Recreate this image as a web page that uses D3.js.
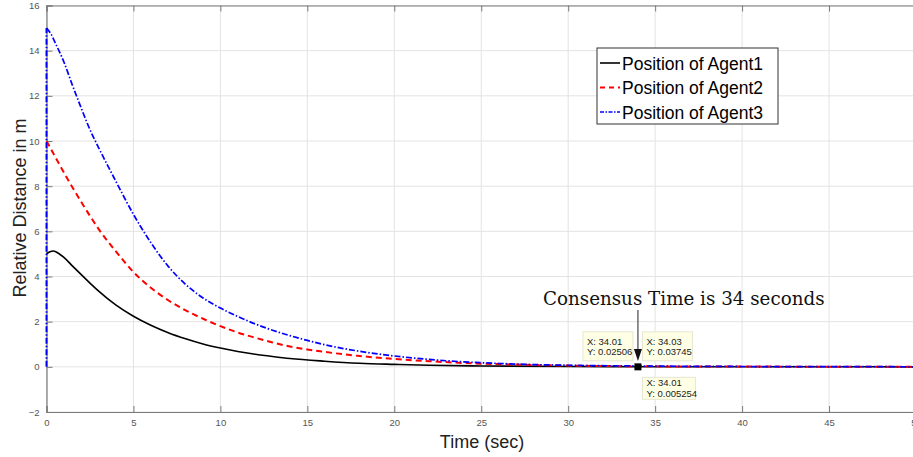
<!DOCTYPE html>
<html><head><meta charset="utf-8">
<script src="https://cdn.jsdelivr.net/npm/d3@7"></script>
<style>
html,body{margin:0;padding:0;background:#fff;}
svg{display:block;font-family:"Liberation Sans",Arial,sans-serif;}
</style></head>
<body><svg id="c" width="913" height="457"></svg>
<script>
const xTicks = [0,5,10,15,20,25,30,35,40,45,50];
const yTicks = [-2,0,2,4,6,8,10,12,14,16];
const seriesNames = ["Position of Agent1","Position of Agent2","Position of Agent3"];

const agent1T = [0,0.2,0.4,0.7,1,1.5,2,2.5,3,4,5,6,7,8,9,10,11,12,13,14,16,18,20,22,25,30,34,40,45,50];
const agent1Y = [5.0,5.1,5.13,5.02,4.85,4.46,4.08,3.71,3.35,2.73,2.24,1.84,1.51,1.24,1.01,0.83,0.68,0.56,0.46,0.37,0.25,0.16,0.11,0.07,0.04,0.015,0.005,0.002,0.001,0.0];

const agent2T = [0,0.5,1,2,3,4,5,6,7,8,9,10,11,12,13,14,15,16,18,20,22,24,26,28,30,34,40,45,50];
const agent2Y = [10,9.3,8.6,7.3,6.1,5.1,4.2,3.5,2.95,2.5,2.13,1.8,1.52,1.29,1.08,0.9,0.77,0.66,0.48,0.35,0.25,0.17,0.12,0.08,0.055,0.025,0.012,0.006,0.003];

const agent3T = [0,0,0.25,0.5,1,1.5,2,2.5,3,4,5,6,7,8,9,10,11,12,13,14,15,16,17,18,20,22,24,26,28,30,34,40,45,50];
const agent3Y = [0,15,14.75,14.35,13.5,12.45,11.45,10.5,9.7,8.2,6.75,5.5,4.45,3.65,3.05,2.6,2.23,1.9,1.62,1.38,1.17,0.98,0.82,0.69,0.48,0.33,0.22,0.15,0.1,0.07,0.037,0.015,0.008,0.004];

const tipX = [34.01, 34.03, 34.01];
const tipY = [0.02506, 0.03745, 0.005254];
const markerPoint = [34.01, 0];
const annotationText = "Consensus Time is 34 seconds";

const svg = d3.select("#c");
const x = d3.scaleLinear().domain([0,50]).range([46.5,916]);
const y = d3.scaleLinear().domain([-2,16]).range([412,5.5]);

// grid
const g = svg.append("g");
g.selectAll(".gx").data(xTicks).join("line")
  .attr("x1",d=>x(d)).attr("x2",d=>x(d)).attr("y1",y(-2)).attr("y2",y(16))
  .attr("stroke","#e3e3e3").attr("stroke-width",1);
g.selectAll(".gy").data(yTicks).join("line")
  .attr("x1",x(0)).attr("x2",x(50)).attr("y1",d=>y(d)).attr("y2",d=>y(d))
  .attr("stroke","#e3e3e3").attr("stroke-width",1);

// axes
const axCol = "#7a7a7a";
const xAxis = svg.append("g").attr("transform",`translate(0,${y(-2)})`)
  .call(d3.axisBottom(x).tickValues(xTicks).tickSize(-6).tickPadding(7).tickFormat(d3.format("d")));
const xTop = svg.append("g").attr("transform",`translate(0,${y(16)})`)
  .call(d3.axisTop(x).tickValues(xTicks).tickSize(-6).tickFormat(""));
const yAxis = svg.append("g").attr("transform",`translate(${x(0)},0)`)
  .call(d3.axisLeft(y).tickValues(yTicks).tickSize(-6).tickPadding(7).tickFormat(d3.format("d")));
[xAxis,xTop,yAxis].forEach(a=>{
  a.selectAll("path").attr("stroke",axCol).attr("stroke-width",1.2);
  a.selectAll("line").attr("stroke",axCol).attr("stroke-width",1);
  a.selectAll("text").attr("fill","#555").style("font-size","9.5px").style("font-family","Liberation Sans, Arial, sans-serif");
});

// lines
const mk = (T,Y)=>T.map((t,i)=>[t,Y[i]]);
const line = d3.line().x(d=>x(d[0])).y(d=>y(d[1])).curve(d3.curveMonotoneX);
const lineL = d3.line().x(d=>x(d[0])).y(d=>y(d[1]));
svg.append("path").datum(mk(agent1T,agent1Y)).attr("d",line)
  .attr("fill","none").attr("stroke","#000").attr("stroke-width",1.6);
svg.append("path").datum(mk(agent2T,agent2Y)).attr("d",line)
  .attr("fill","none").attr("stroke","#ff0000").attr("stroke-width",2).attr("stroke-dasharray","6,4");
const a3 = mk(agent3T,agent3Y);
svg.append("path").datum(a3.slice(0,2)).attr("d",lineL)
  .attr("fill","none").attr("stroke","#0000ff").attr("stroke-width",2).attr("stroke-dasharray","6,2,1.5,2");
svg.append("path").datum(a3.slice(1)).attr("d",line)
  .attr("fill","none").attr("stroke","#0000ff").attr("stroke-width",1.7).attr("stroke-dasharray","6,2,1.5,2");

// marker
svg.append("rect").attr("x",x(markerPoint[0])-3.5).attr("y",y(markerPoint[1])-3.5)
  .attr("width",7).attr("height",7).attr("fill","#000");

// datatips
const tipBoxes = [
  {dx:-55, dy:-35, w:50, h:29},
  {dx:4.5, dy:-35, w:50, h:29},
  {dx:4.5, dy:10.5, w:53, h:22}
];
tipBoxes.forEach((b,i)=>{
  const px = x(markerPoint[0]) + b.dx, py = y(markerPoint[1]) + b.dy;
  const tg = svg.append("g");
  tg.append("rect").attr("x",px).attr("y",py).attr("width",b.w).attr("height",b.h)
    .attr("fill","#ffffe5").attr("stroke","#e6e6cf").attr("stroke-width",1);
  const top = i===2 ? py+9 : py+13;
  tg.append("text").attr("x",px+4).attr("y",top).text("X: "+tipX[i])
    .style("font-size","9.5px").attr("fill","#222");
  tg.append("text").attr("x",px+4).attr("y",top+10.5).text("Y: "+tipY[i])
    .style("font-size","9.5px").attr("fill","#222");
});

// annotation arrow
const ax0 = x(markerPoint[0]);
svg.append("line").attr("x1",ax0).attr("x2",ax0).attr("y1",310).attr("y2",352)
  .attr("stroke","#555").attr("stroke-width",1.3);
svg.append("path").attr("d",`M${ax0-4},349 L${ax0+4},349 L${ax0},361 Z`).attr("fill","#111");
svg.append("text").attr("x",543).attr("y",305).text(annotationText)
  .style("font-family","DejaVu Serif, serif").style("font-size","18.3px").attr("fill","#111");

// legend
const lg = svg.append("g");
lg.append("rect").attr("x",597).attr("y",48).attr("width",181).attr("height",76)
  .attr("fill","#fff").attr("stroke","#333").attr("stroke-width",1);
const lStyles = [
  {c:"#000",w:1.6,d:null},
  {c:"#ff0000",w:2,d:"5,4"},
  {c:"#0000ff",w:1.7,d:"4,1.5,1.5,1.5"}
];
seriesNames.forEach((n,i)=>{
  const ly = 63 + i*24.5;
  lg.append("line").attr("x1",600).attr("x2",620).attr("y1",ly).attr("y2",ly)
    .attr("stroke",lStyles[i].c).attr("stroke-width",lStyles[i].w)
    .attr("stroke-dasharray",lStyles[i].d);
  lg.append("text").attr("x",622).attr("y",ly+6.5).text(n)
    .style("font-size","17.5px").attr("fill","#000");
});

// axis titles
svg.append("text").attr("x",482).attr("y",448).attr("text-anchor","middle")
  .text("Time (sec)").style("font-size","18px").attr("fill","#222");
svg.append("text").attr("transform","translate(26,208) rotate(-90)").attr("text-anchor","middle")
  .text("Relative Distance in m").style("font-size","18px").attr("fill","#222");
</script></body></html>
